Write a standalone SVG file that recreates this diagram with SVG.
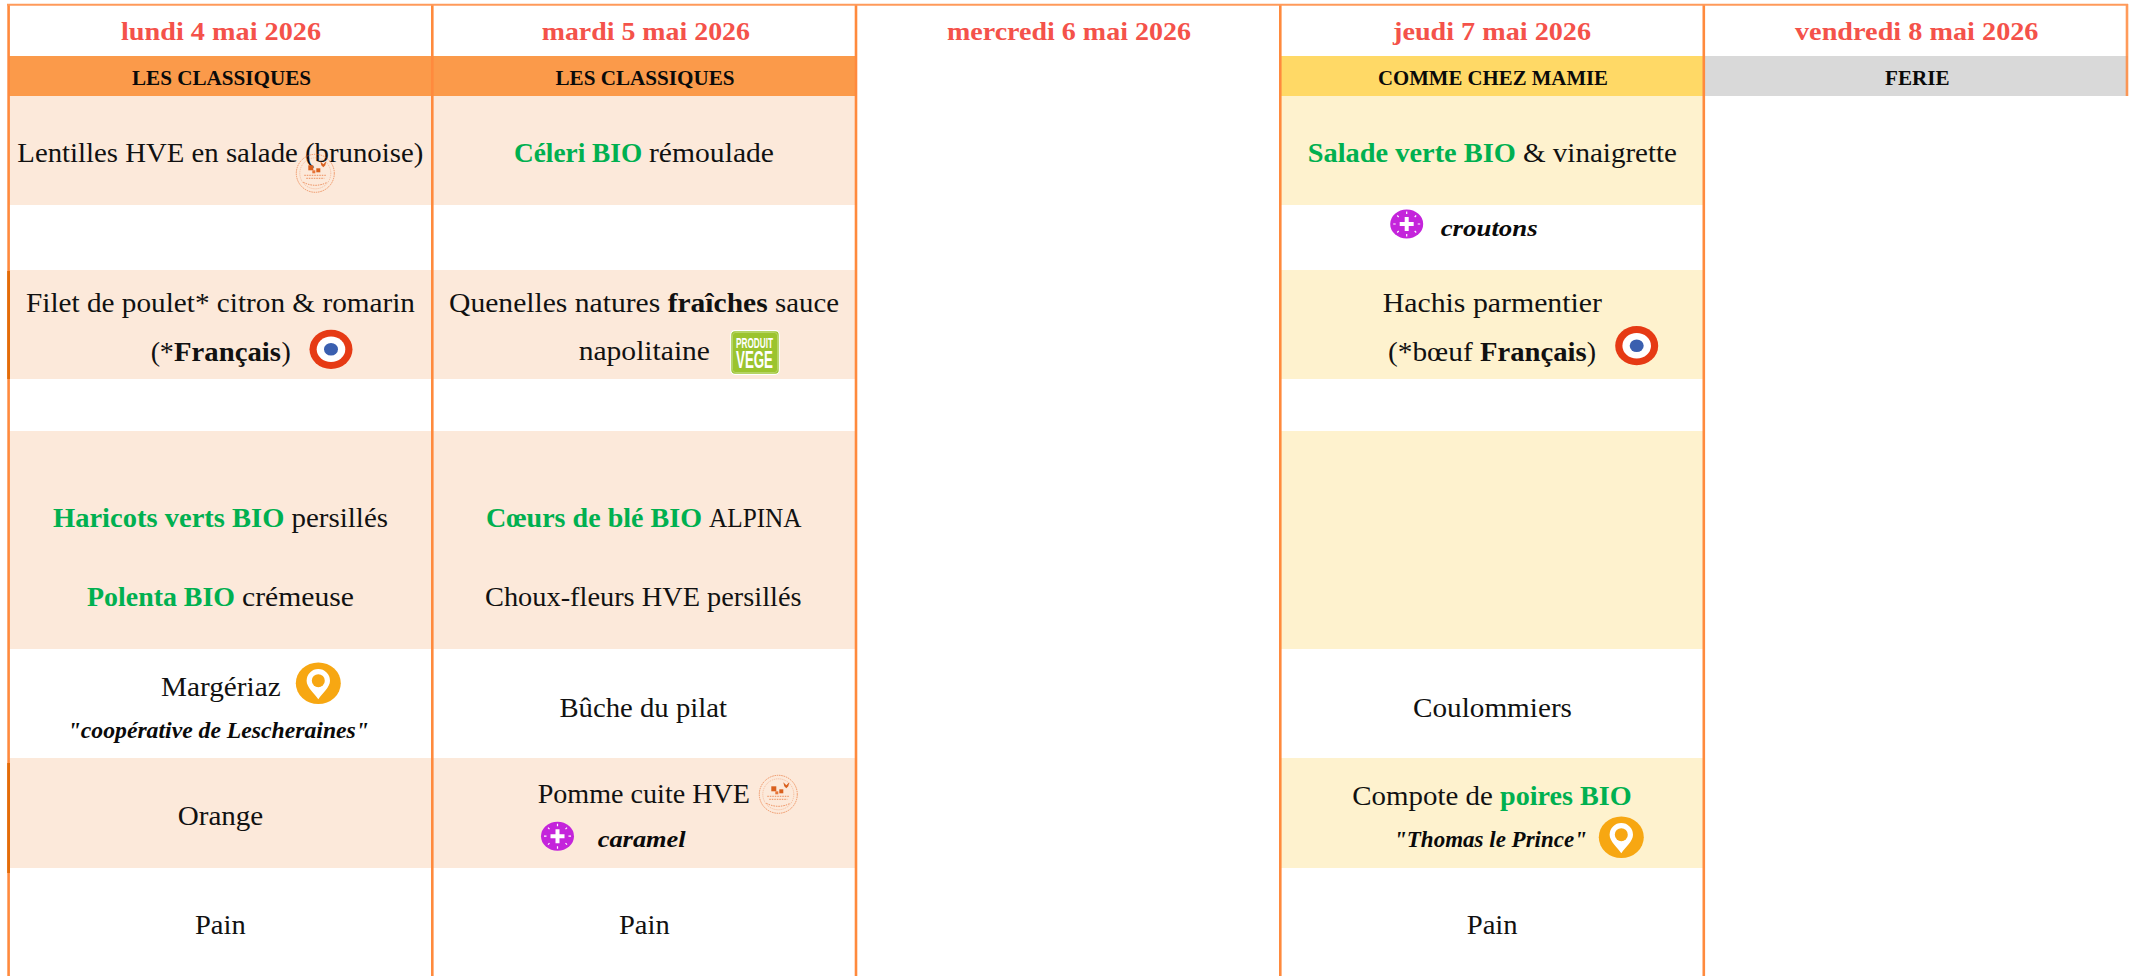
<svg xmlns="http://www.w3.org/2000/svg" width="2134" height="976" viewBox="0 0 2134 976">
<style>
text{font-family:"Liberation Serif",serif;fill:#111;font-size:28px}
.d{font-size:26px;font-weight:700;fill:#F4524A}
.h{font-size:21px;font-weight:700;fill:#0a0a0a}
.s{font-size:23px;font-weight:700;font-style:italic;fill:#0a0a0a}
.k{font-weight:700}
.g{font-weight:700;fill:#00B050}
.o{fill:#FCE9DA}.y{fill:#FEF2CE}
.l{stroke:#FF8A3D;stroke-width:2.6;fill:none}
.t{stroke:#E8753A;fill:none}
.v{font-family:"Liberation Sans",sans-serif;font-weight:700;fill:#fff}
</style>
<defs>
<g id="cocarde"><ellipse rx="21.5" ry="19.6" fill="#E63A14"/><ellipse rx="14.3" ry="12.8" fill="#fff"/><ellipse rx="7" ry="6.3" fill="#3A5FAF"/></g>
<g id="pin"><ellipse rx="22.5" ry="20.8" fill="#F7A712"/><path d="M0 16C-4 10-11.7 4-11.7-2.6A11.7 11.7 0 0 1 11.7-2.6C11.7 4 4 10 0 16Z" fill="#fff"/><circle cy="-2.6" r="6.5" fill="#F7A712"/></g>
<g id="plus"><ellipse rx="16.5" ry="14.5" fill="#C424DB"/><path d="M-7-2H-2V-7H2V-2H7V2H2V7H-2V2H-7Z" fill="#fff"/><path d="M-13.5 0H-11M11 0H13.5M0-12.5V-10M0 10V12.5M-9.5-8.5-8-7M8-7 9.5-8.5M-9.5 8.5-8 7M8 7 9.5 8.5" stroke="#fff" stroke-width="1.2"/></g>
<g id="seal"><circle r="19" class="t" stroke-width=".7" stroke-dasharray="1.5 .8"/><circle r="15.5" class="t" stroke-width=".4" stroke-dasharray="1 1"/><rect x="-7" y="-8" width="5" height="5" fill="#D9601E"/><rect x="1" y="-5" width="4" height="4" fill="#D9601E"/><rect x="-3" y="-3" width="3" height="3" fill="#E8753A"/><path d="M5-12 8-9 11-12 10-8 8-6 6-8Z" fill="#D9601E"/><path d="M-11 2H11M-9 5H9M-12 9Q0 15 12 9" class="t" stroke-width=".8" stroke-dasharray="1.5 1"/></g>
<g id="vege"><rect x=".7" y=".7" width="48.6" height="43.6" rx="4" fill="#9BC42E" stroke="#fff" stroke-width="1.2"/><rect x="2.5" y="2.5" width="45" height="40" rx="3" fill="none" stroke="#C8DF8A" stroke-width=".6"/><text class="v" x="6" y="17.5" style="font-size:14px" textLength="37" lengthAdjust="spacingAndGlyphs">PRODUIT</text><text class="v" x="6" y="38" style="font-size:24px" textLength="37" lengthAdjust="spacingAndGlyphs">VEGE</text></g>
</defs>
<rect width="2134" height="976" fill="#fff"/>

<g id="bands">
<rect x="8" y="56" width="848" height="40" fill="#FB9A4A"/>
<rect x="1280" y="56" width="424" height="40" fill="#FFD966"/>
<rect x="1704" y="56" width="424" height="40" fill="#D9D9D9"/>
<rect class="o" x="8" y="96" width="848" height="109"/>
<rect class="o" x="8" y="270" width="848" height="109"/>
<rect class="o" x="8" y="431" width="848" height="218"/>
<rect class="o" x="8" y="758" width="848" height="110"/>
<rect class="y" x="1280" y="96" width="424" height="109"/>
<rect class="y" x="1280" y="270" width="424" height="109"/>
<rect class="y" x="1280" y="431" width="424" height="218"/>
<rect class="y" x="1280" y="758" width="424" height="110"/>
</g>

<g id="grid">
<path class="l" d="M8.6 4V976M432.3 4V976M856 4V976M1280.3 4V976M1703.8 4V976"/>
<path class="l" stroke-opacity=".85" d="M2127 4V96"/>
<path d="M7 4.7H2128" stroke="#FF9A5A" stroke-width="2"/>
<path d="M8.6 271V379M8.6 763V873" stroke="#E36C09" stroke-width="2.8"/>
</g>

<g id="day-1">
<text class="d" x="121" y="40" textLength="200" lengthAdjust="spacingAndGlyphs">lundi 4 mai 2026</text>
<text class="h" x="132" y="85" textLength="179" lengthAdjust="spacingAndGlyphs">LES CLASSIQUES</text>
<text x="17.3" y="162" textLength="406" lengthAdjust="spacingAndGlyphs">Lentilles HVE en salade (brunoise)</text>
<use href="#seal" x="315.3" y="173.3"/>
<text x="26" y="311.7" textLength="389" lengthAdjust="spacingAndGlyphs">Filet de poulet* citron &amp; romarin</text>
<text y="361"><tspan x="150.7" textLength="23">(*</tspan><tspan class="k" x="174" textLength="107" lengthAdjust="spacingAndGlyphs">Français</tspan><tspan x="281.5">)</tspan></text>
<use href="#cocarde" x="331" y="349.3"/>
<text y="526.7"><tspan class="g" x="53" textLength="238.5" lengthAdjust="spacingAndGlyphs">Haricots verts BIO </tspan><tspan x="291.5" textLength="96.5" lengthAdjust="spacingAndGlyphs">persillés</tspan></text>
<text y="605.7"><tspan class="g" x="87" textLength="155" lengthAdjust="spacingAndGlyphs">Polenta BIO </tspan><tspan x="242" textLength="112" lengthAdjust="spacingAndGlyphs">crémeuse</tspan></text>
<text x="161" y="695.7" textLength="119.7" lengthAdjust="spacingAndGlyphs">Margériaz</text>
<use href="#pin" x="318.3" y="683.3"/>
<text class="s" x="67.7" y="738" textLength="301.3" lengthAdjust="spacingAndGlyphs">"coopérative de Lescheraines"</text>
<text x="177.7" y="825" textLength="85.6" lengthAdjust="spacingAndGlyphs">Orange</text>
<text x="195" y="934" textLength="50.7" lengthAdjust="spacingAndGlyphs">Pain</text>
</g>

<g id="day-2">
<text class="d" x="541.7" y="40" textLength="208.3" lengthAdjust="spacingAndGlyphs">mardi 5 mai 2026</text>
<text class="h" x="555.5" y="85" textLength="179" lengthAdjust="spacingAndGlyphs">LES CLASSIQUES</text>
<text y="162"><tspan class="g" x="514" textLength="135" lengthAdjust="spacingAndGlyphs">Céleri BIO </tspan><tspan x="649" textLength="125" lengthAdjust="spacingAndGlyphs">rémoulade</tspan></text>
<text y="311.7"><tspan x="449" textLength="218.7" lengthAdjust="spacingAndGlyphs">Quenelles natures </tspan><tspan class="k" x="667.7" textLength="107.3" lengthAdjust="spacingAndGlyphs">fraîches </tspan><tspan x="775" textLength="64" lengthAdjust="spacingAndGlyphs">sauce</tspan></text>
<text x="578.7" y="360" textLength="131.3" lengthAdjust="spacingAndGlyphs">napolitaine</text>
<use href="#vege" x="730" y="330"/>
<text y="526.7"><tspan class="g" x="486" textLength="223" lengthAdjust="spacingAndGlyphs">Cœurs de blé BIO </tspan><tspan x="709" textLength="92.6" lengthAdjust="spacingAndGlyphs">ALPINA</tspan></text>
<text x="485" y="605.7" textLength="316.6" lengthAdjust="spacingAndGlyphs">Choux-fleurs HVE persillés</text>
<text x="559.4" y="716.7" textLength="167.6" lengthAdjust="spacingAndGlyphs">Bûche du pilat</text>
<text x="537.7" y="803" textLength="212.3" lengthAdjust="spacingAndGlyphs">Pomme cuite HVE</text>
<use href="#seal" x="778.3" y="794.3"/>
<use href="#plus" x="557.5" y="836.2"/>
<text class="s" x="597.7" y="847.3" textLength="88" lengthAdjust="spacingAndGlyphs">caramel</text>
<text x="619" y="934" textLength="50.7" lengthAdjust="spacingAndGlyphs">Pain</text>
</g>

<g id="day-3">
<text class="d" x="947" y="40" textLength="244" lengthAdjust="spacingAndGlyphs">mercredi 6 mai 2026</text>
</g>

<g id="day-4">
<text class="d" x="1393" y="40" textLength="198" lengthAdjust="spacingAndGlyphs">jeudi 7 mai 2026</text>
<text class="h" x="1378" y="85" textLength="230" lengthAdjust="spacingAndGlyphs">COMME CHEZ MAMIE</text>
<text y="162"><tspan class="g" x="1307.7" textLength="215.3" lengthAdjust="spacingAndGlyphs">Salade verte BIO </tspan><tspan x="1523" textLength="154" lengthAdjust="spacingAndGlyphs">&amp; vinaigrette</tspan></text>
<use href="#plus" x="1406.7" y="224"/>
<text class="s" x="1440.7" y="236" textLength="97" lengthAdjust="spacingAndGlyphs">croutons</text>
<text x="1382.7" y="311.7" textLength="219.3" lengthAdjust="spacingAndGlyphs">Hachis parmentier</text>
<text y="361"><tspan x="1388" textLength="92" lengthAdjust="spacingAndGlyphs">(*bœuf </tspan><tspan class="k" x="1480" textLength="106.7" lengthAdjust="spacingAndGlyphs">Français</tspan><tspan x="1586.7">)</tspan></text>
<use href="#cocarde" x="1636.7" y="345.7"/>
<text x="1413" y="716.7" textLength="159" lengthAdjust="spacingAndGlyphs">Coulommiers</text>
<text y="805"><tspan x="1352.3" textLength="147.7" lengthAdjust="spacingAndGlyphs">Compote de </tspan><tspan class="g" x="1500" textLength="131.7" lengthAdjust="spacingAndGlyphs">poires BIO</tspan></text>
<text class="s" x="1394" y="847" textLength="193" lengthAdjust="spacingAndGlyphs">"Thomas le Prince"</text>
<use href="#pin" x="1621.3" y="837.3"/>
<text x="1466.7" y="934" textLength="51" lengthAdjust="spacingAndGlyphs">Pain</text>
</g>

<g id="day-5">
<text class="d" x="1795" y="40" textLength="243.5" lengthAdjust="spacingAndGlyphs">vendredi 8 mai 2026</text>
<text class="h" x="1885" y="85" textLength="64.5" lengthAdjust="spacingAndGlyphs">FERIE</text>
</g>
</svg>
